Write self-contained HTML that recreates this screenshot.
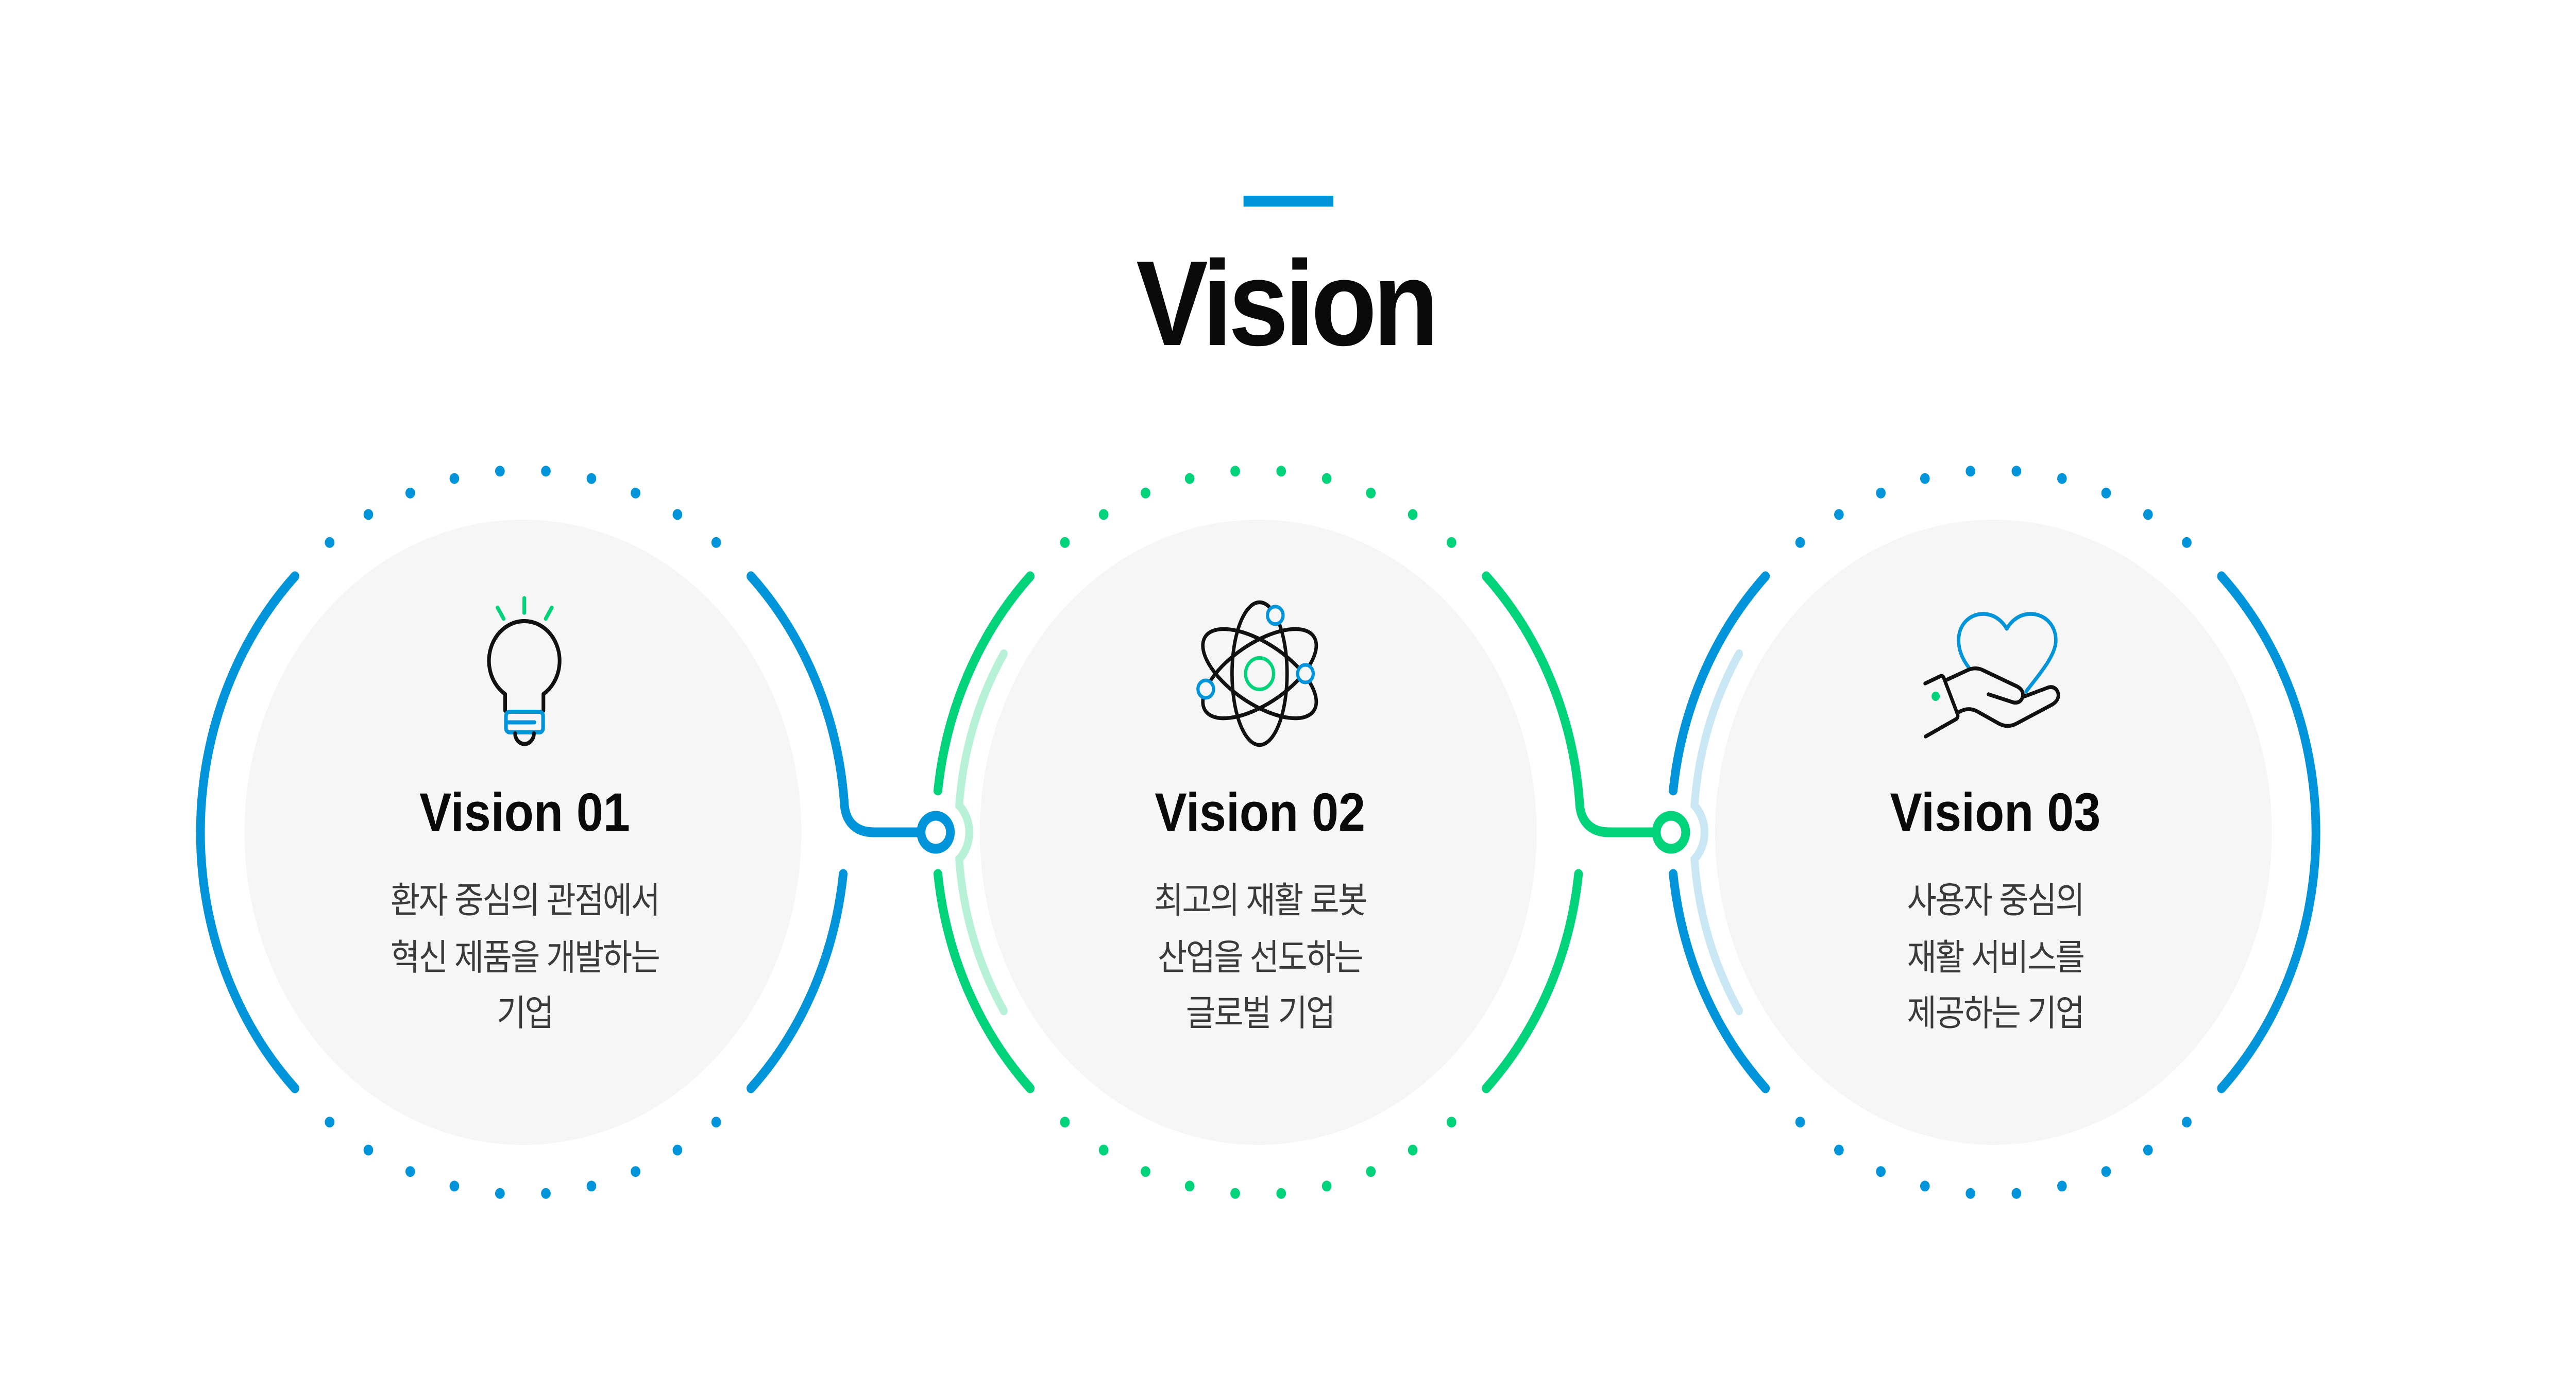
<!DOCTYPE html>
<html>
<head>
<meta charset="utf-8">
<style>
  html, body { margin:0; padding:0; background:#ffffff; width:100%; height:100%; overflow:hidden; }
  svg { display:block; width:100vw; height:100vh; }
  .ttl { font-family:"Liberation Sans","Noto Sans CJK KR",sans-serif; font-weight:700; fill:#0a0a0a; }
  .kr { font-family:"Liberation Sans","Noto Sans CJK KR",sans-serif; font-weight:400; fill:#3a3a3a; font-size:70px; letter-spacing:-3px; }
</style>
</head>
<body>
<svg viewBox="0 0 5616 2695" preserveAspectRatio="none" xmlns="http://www.w3.org/2000/svg">
  <rect x="0" y="0" width="5616" height="2695" fill="#ffffff"/>

  <!-- Title -->
  <rect x="2711" y="380" width="196" height="21" fill="#0095DA"/>
  <text class="ttl" x="2477" y="670" font-size="235" textLength="660" lengthAdjust="spacing">Vision</text>

  <!-- Gray fills -->
  <circle cx="1140" cy="1616" r="607" fill="#F6F6F6"/>
  <circle cx="2743" cy="1616" r="607" fill="#F6F6F6"/>
  <circle cx="4346" cy="1616" r="607" fill="#F6F6F6"/>

  <!-- Dots circle 1 (blue) -->
  <g transform="translate(1140,1616)" fill="#0095DA">
    <circle cx="-50.1" cy="-701.2" r="10.5"/><circle cx="50.1" cy="-701.2" r="10.5"/>
    <circle cx="-149.4" cy="-686.9" r="10.5"/><circle cx="149.4" cy="-686.9" r="10.5"/>
    <circle cx="-245.6" cy="-658.7" r="10.5"/><circle cx="245.6" cy="-658.7" r="10.5"/>
    <circle cx="-336.9" cy="-617" r="10.5"/><circle cx="336.9" cy="-617" r="10.5"/>
    <circle cx="-421.4" cy="-562.7" r="10.5"/><circle cx="421.4" cy="-562.7" r="10.5"/>
    <circle cx="-50.1" cy="701.2" r="10.5"/><circle cx="50.1" cy="701.2" r="10.5"/>
    <circle cx="-149.4" cy="686.9" r="10.5"/><circle cx="149.4" cy="686.9" r="10.5"/>
    <circle cx="-245.6" cy="658.7" r="10.5"/><circle cx="245.6" cy="658.7" r="10.5"/>
    <circle cx="-336.9" cy="617" r="10.5"/><circle cx="336.9" cy="617" r="10.5"/>
    <circle cx="-421.4" cy="562.7" r="10.5"/><circle cx="421.4" cy="562.7" r="10.5"/>
  </g>
  <!-- Dots circle 2 (green) -->
  <g transform="translate(2743,1616)" fill="#00D37A">
    <circle cx="-50.1" cy="-701.2" r="10.5"/><circle cx="50.1" cy="-701.2" r="10.5"/>
    <circle cx="-149.4" cy="-686.9" r="10.5"/><circle cx="149.4" cy="-686.9" r="10.5"/>
    <circle cx="-245.6" cy="-658.7" r="10.5"/><circle cx="245.6" cy="-658.7" r="10.5"/>
    <circle cx="-336.9" cy="-617" r="10.5"/><circle cx="336.9" cy="-617" r="10.5"/>
    <circle cx="-421.4" cy="-562.7" r="10.5"/><circle cx="421.4" cy="-562.7" r="10.5"/>
    <circle cx="-50.1" cy="701.2" r="10.5"/><circle cx="50.1" cy="701.2" r="10.5"/>
    <circle cx="-149.4" cy="686.9" r="10.5"/><circle cx="149.4" cy="686.9" r="10.5"/>
    <circle cx="-245.6" cy="658.7" r="10.5"/><circle cx="245.6" cy="658.7" r="10.5"/>
    <circle cx="-336.9" cy="617" r="10.5"/><circle cx="336.9" cy="617" r="10.5"/>
    <circle cx="-421.4" cy="562.7" r="10.5"/><circle cx="421.4" cy="562.7" r="10.5"/>
  </g>
  <!-- Dots circle 3 (blue) -->
  <g transform="translate(4346,1616)" fill="#0095DA">
    <circle cx="-50.1" cy="-701.2" r="10.5"/><circle cx="50.1" cy="-701.2" r="10.5"/>
    <circle cx="-149.4" cy="-686.9" r="10.5"/><circle cx="149.4" cy="-686.9" r="10.5"/>
    <circle cx="-245.6" cy="-658.7" r="10.5"/><circle cx="245.6" cy="-658.7" r="10.5"/>
    <circle cx="-336.9" cy="-617" r="10.5"/><circle cx="336.9" cy="-617" r="10.5"/>
    <circle cx="-421.4" cy="-562.7" r="10.5"/><circle cx="421.4" cy="-562.7" r="10.5"/>
    <circle cx="-50.1" cy="701.2" r="10.5"/><circle cx="50.1" cy="701.2" r="10.5"/>
    <circle cx="-149.4" cy="686.9" r="10.5"/><circle cx="149.4" cy="686.9" r="10.5"/>
    <circle cx="-245.6" cy="658.7" r="10.5"/><circle cx="245.6" cy="658.7" r="10.5"/>
    <circle cx="-336.9" cy="617" r="10.5"/><circle cx="336.9" cy="617" r="10.5"/>
    <circle cx="-421.4" cy="562.7" r="10.5"/><circle cx="421.4" cy="562.7" r="10.5"/>
  </g>

  <!-- Light inner arcs -->
  <path d="M 2188.4 1269.4 A 654 654 0 0 0 2091.1 1563.8 A 73 73 0 0 1 2091.1 1668.2 A 654 654 0 0 0 2188.4 1962.6" fill="none" stroke="#B6F1D8" stroke-width="17" stroke-linecap="round" stroke-linejoin="miter"/>
  <path d="M 3791.4 1269.4 A 654 654 0 0 0 3694.1 1563.8 A 73 73 0 0 1 3694.1 1668.2 A 654 654 0 0 0 3791.4 1962.6" fill="none" stroke="#C9E7F5" stroke-width="17" stroke-linecap="round" stroke-linejoin="miter"/>

  <!-- Circle 1 arcs (blue) -->
  <g fill="none" stroke="#0095DA" stroke-width="19" stroke-linecap="round" stroke-linejoin="round">
    <path d="M 642.9 1118.9 A 703 703 0 0 0 642.9 2113.1"/>
    <path d="M 1637.1 1118.9 A 703 703 0 0 1 1840.4 1556 C 1841.5 1595 1865 1616 1905 1616 L 2010 1616"/>
    <path d="M 1838.3 1697 A 703 703 0 0 1 1637.1 2113.1"/>
  </g>
  <!-- Circle 2 arcs (green) -->
  <g fill="none" stroke="#00D37A" stroke-width="19" stroke-linecap="round" stroke-linejoin="round">
    <path d="M 2245.9 1118.9 A 703 703 0 0 0 2044.7 1535"/>
    <path d="M 2044.7 1697 A 703 703 0 0 0 2245.9 2113.1"/>
    <path d="M 3240.1 1118.9 A 703 703 0 0 1 3443.4 1556 C 3444.5 1595 3468 1616 3508 1616 L 3613 1616"/>
    <path d="M 3441.3 1697 A 703 703 0 0 1 3240.1 2113.1"/>
  </g>
  <!-- Circle 3 arcs (blue) -->
  <g fill="none" stroke="#0095DA" stroke-width="19" stroke-linecap="round" stroke-linejoin="round">
    <path d="M 3848.9 1118.9 A 703 703 0 0 0 3647.7 1535"/>
    <path d="M 3647.7 1697 A 703 703 0 0 0 3848.9 2113.1"/>
    <path d="M 4843.1 1118.9 A 703 703 0 0 1 4843.1 2113.1"/>
  </g>

  <!-- Nodes -->
  <circle cx="2040" cy="1616" r="32" fill="#ffffff" stroke="#0095DA" stroke-width="19"/>
  <circle cx="3643" cy="1616" r="32" fill="#ffffff" stroke="#00D37A" stroke-width="19"/>

  <!-- Icon 1: light bulb -->
  <g transform="translate(1143,1283)" fill="none" stroke-width="8" stroke-linecap="round" stroke-linejoin="round">
    <g stroke="#00D37A">
      <line x1="0" y1="-121.6" x2="0" y2="-93.3"/>
      <line x1="-58.3" y1="-103.3" x2="-45" y2="-81.6"/>
      <line x1="60" y1="-103.3" x2="46.7" y2="-81.6"/>
    </g>
    <path d="M -41.7 64.7 A 77 77 0 1 1 41.7 64.7 L 41.7 97 M -41.7 64.7 L -41.7 97" stroke="#111"/>
    <rect x="-40" y="99" width="81" height="40" rx="8" stroke="#0095DA"/>
    <line x1="-40" y1="119.5" x2="22" y2="119.5" stroke="#0095DA"/>
    <path d="M -20 141 A 20.5 20.5 0 0 0 21 141" stroke="#111"/>
  </g>

  <!-- Icon 2: atom -->
  <g transform="translate(2746,1308)" fill="none" stroke-width="7.5">
    <ellipse cx="0" cy="0" rx="60" ry="138.5" stroke="#111"/>
    <ellipse cx="0" cy="0" rx="138.5" ry="60" stroke="#111" transform="rotate(30)"/>
    <ellipse cx="0" cy="0" rx="138.5" ry="60" stroke="#111" transform="rotate(-30)"/>
    <circle cx="0" cy="0" r="30.5" stroke="#00D37A" stroke-width="7"/>
    <circle cx="34.3" cy="-113.3" r="17" fill="#F6F6F6" stroke="#0095DA" stroke-width="7"/>
    <circle cx="100" cy="0" r="17" fill="#F6F6F6" stroke="#0095DA" stroke-width="7"/>
    <circle cx="-117.3" cy="30" r="17" fill="#F6F6F6" stroke="#0095DA" stroke-width="7"/>
  </g>

  <!-- Icon 3: heart in hand -->
  <g fill="none" stroke-width="7.5" stroke-linecap="round" stroke-linejoin="round">
    <path d="M 4293 1297 C 4278 1280 4270 1262 4270 1243 C 4270 1212 4295 1192 4323 1192 C 4347 1192 4365 1205 4375 1221 C 4385 1205 4403 1192 4427 1192 C 4458 1192 4482 1214 4482 1243 C 4482 1275 4440 1315 4417 1343" stroke="#0095DA"/>
    <g stroke="#111">
      <path d="M 4197 1327 L 4230 1313 Q 4236 1311 4238 1317 L 4267 1385 Q 4270 1392 4265 1396 L 4198 1430"/>
      <path d="M 4244 1320 L 4290 1301 Q 4305 1295 4320 1300 L 4398 1333 Q 4412 1340 4410 1352 Q 4406 1366 4390 1364 L 4335 1348"/>
      <path d="M 4270 1383 Q 4290 1372 4310 1381 L 4358 1405 Q 4377 1414 4396 1405 L 4474 1368 Q 4492 1358 4486 1343 Q 4478 1330 4462 1336 L 4414 1352"/>
    </g>
  </g>
  <circle cx="4220" cy="1352" r="9" fill="#00D37A"/>

  <!-- Titles -->
  <text class="ttl" x="1144" y="1613" font-size="105" text-anchor="middle">Vision 01</text>
  <text class="ttl" x="2747" y="1613" font-size="105" text-anchor="middle">Vision 02</text>
  <text class="ttl" x="4350" y="1613" font-size="105" text-anchor="middle">Vision 03</text>

  <!-- Korean descriptions -->
  <text class="kr" x="1144" y="1772" text-anchor="middle">환자 중심의 관점에서</text>
  <text class="kr" x="1144" y="1883" text-anchor="middle">혁신 제품을 개발하는</text>
  <text class="kr" x="1144" y="1991" text-anchor="middle">기업</text>

  <text class="kr" x="2747" y="1772" text-anchor="middle">최고의 재활 로봇</text>
  <text class="kr" x="2747" y="1883" text-anchor="middle">산업을 선도하는</text>
  <text class="kr" x="2747" y="1991" text-anchor="middle">글로벌 기업</text>

  <text class="kr" x="4350" y="1772" text-anchor="middle">사용자 중심의</text>
  <text class="kr" x="4350" y="1883" text-anchor="middle">재활 서비스를</text>
  <text class="kr" x="4350" y="1991" text-anchor="middle">제공하는 기업</text>
</svg>
</body>
</html>
